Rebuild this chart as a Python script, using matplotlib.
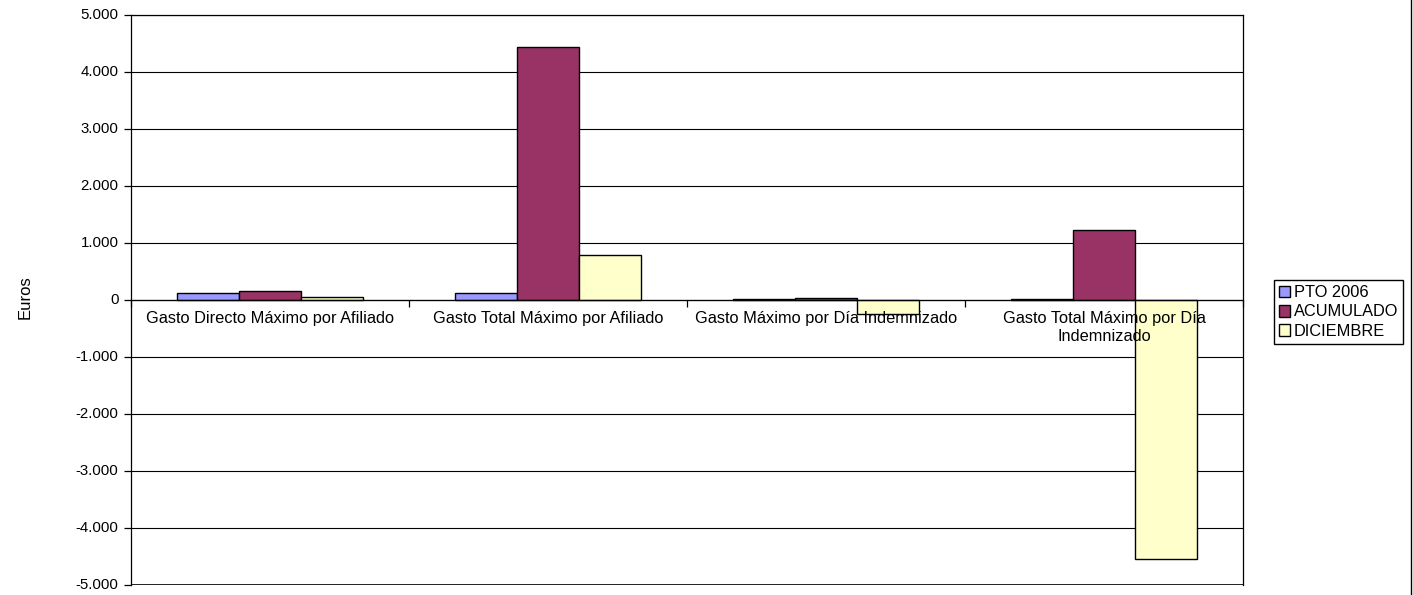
import matplotlib
matplotlib.use('Agg')
import matplotlib.pyplot as plt
import matplotlib.ticker as tck
import numpy as np
from matplotlib.lines import Line2D

# data
categories = ['Gasto Directo Máximo por Afiliado', 'Gasto Total Máximo por Afiliado',
              'Gasto Máximo por Día Indemnizado', 'Gasto Total Máximo por Día\nIndemnizado']
series_names = ['PTO 2006', 'ACUMULADO', 'DICIEMBRE']
pto_2006 = [130, 130, 20, 20]
acumulado = [160, 4430, 40, 1220]
diciembre = [50, 790, -240, -4540]
y_ticks = list(range(-5000, 5001, 1000))
colors = ['#9999FF', '#993366', '#FFFFCC']

plt.rcParams['font.family'] = ['Liberation Sans', 'DejaVu Sans']

W, H = 1413, 595
fig = plt.figure(figsize=(W / 100, H / 100), dpi=100)
ax = fig.add_axes([131 / W, 1 - 585 / H, (1243 - 131) / W, (585 - 15) / H])

x = np.arange(len(categories))
width = 1 / 4.5
for i, (name, values, color) in enumerate(zip(series_names, [pto_2006, acumulado, diciembre], colors)):
    ax.bar(x + (i - 1) * width, values, width, color=color, edgecolor='black',
           linewidth=1, label=name, zorder=1.5)

ax.set_xlim(-0.5, len(categories) - 0.5)
ax.set_ylim(-5000, 5000)
ax.set_yticks(y_ticks)
ax.yaxis.set_major_formatter(tck.FuncFormatter(lambda v, p: f'{v:,.0f}'.replace(',', '.')))
ax.grid(axis='y', color='black', linewidth=0.8)
ax.set_axisbelow(True)

# category axis sits on the zero line, labels drawn above the bars
ax.spines['bottom'].set_position(('data', 0))
for s in ax.spines.values():
    s.set_color('black')
    s.set_linewidth(0.9)
ax.xaxis.set_zorder(3)
ax.axhline(-5000, color='black', linewidth=1.2, zorder=1)

ax.set_xticks(np.arange(-0.5, len(categories), 1.0))
ax.set_xticklabels([])
ax.set_xticks(x, minor=True)
ax.set_xticklabels(categories, minor=True, fontsize=11.8)
ax.tick_params(axis='x', which='major', direction='out', length=5, width=0.9)
ax.tick_params(axis='x', which='minor', length=0, pad=8)
ax.tick_params(axis='y', direction='out', length=5, width=0.9, labelsize=10.8, pad=4)
for lbl in ax.get_yticklabels():
    lbl.set_va('center')

fig.text(25 / W, 0.5, 'Euros', rotation=90, va='center', ha='center', fontsize=12)

ax.legend(loc='center left', bbox_to_anchor=(1274 / W, 1 - 312 / H), bbox_transform=fig.transFigure,
          fontsize=11.8, frameon=True, fancybox=False, edgecolor='black', framealpha=1,
          handlelength=0.7, handleheight=0.7, handletextpad=0.2, labelspacing=0.25,
          borderpad=0.3, borderaxespad=0)

fig.add_artist(Line2D([1411 / W, 1411 / W], [0, 1], color='black', linewidth=1))

fig.savefig('out.png', dpi=100)
